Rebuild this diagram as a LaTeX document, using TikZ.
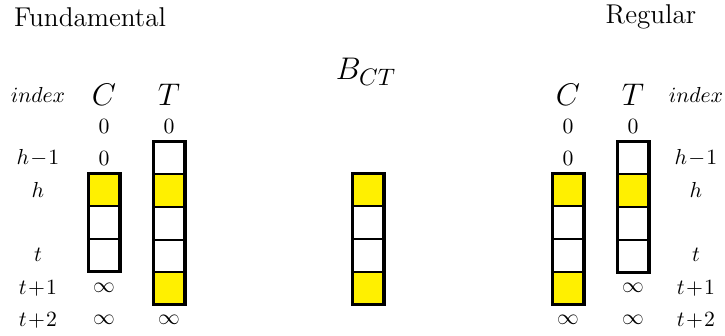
\documentclass[tikz,border=0pt]{standalone}
\usepackage{tikz}
\usetikzlibrary{positioning}
\usepackage{amsmath}
\usepackage{xcolor}

\definecolor{hl}{RGB}{255,240,0}

\begin{document}
\begin{tikzpicture}[
  x=0.46pt, y=-0.46pt,
  font=\normalsize,
  cell/.style={
    draw,
    line width=0.9pt,
    outer sep=0pt,
    inner sep=0pt,
    minimum width=14.7pt,
    minimum height=15pt
  },
  hlcell/.style={cell, fill=hl},
  frame/.style={draw, line width=1.4pt},
  lbl/.style={inner sep=0pt},
  head/.style={inner sep=0pt, font=\fontsize{15}{18}\selectfont}
]
\useasboundingbox (0,0) rectangle (725,335);

% titles
\node[lbl, font=\fontsize{12.5}{15}\selectfont] (fund) at (90,17) {Fundamental};
\node[lbl, font=\fontsize{12.5}{15}\selectfont] (reg) at (651,17) {Regular};
\node[head] (bct) at (366,72) {$B_{CT}$};

% left: Fundamental
\node[lbl] (lidx) at (38,95) {$index$};
\node[head] (lC) at (104,95) {$C$};
\node[head] (lT) at (169,95) {$T$};
\node[lbl] (lr1) at (38,158) {$h\!-\!1$};
\node[lbl] (lr2) at (38,190) {$h$};
\node[lbl] (lr4) at (38,255) {$t$};
\node[lbl] (lr5) at (38,288) {$t\!+\!1$};
\node[lbl] (lr6) at (38,320) {$t\!+\!2$};

\node[lbl] (lc0) at (104,126) {$0$};
\node[lbl] (lc1) at (104,158) {$0$};
\node[hlcell] (lc2) at (104,190) {};
\node[cell, below=0pt of lc2] (lc3) {};
\node[cell, below=0pt of lc3] (lc4) {};
\node[lbl] (lc5) at (104,288) {$\infty$};
\node[lbl] (lc6) at (104,320) {$\infty$};
\draw[frame] (lc2.north west) rectangle (lc4.south east);

\node[lbl] (lt0) at (169,126) {$0$};
\node[cell] (lt1) at (169,158) {};
\node[hlcell, below=0pt of lt1] (lt2) {};
\node[cell, below=0pt of lt2] (lt3) {};
\node[cell, below=0pt of lt3] (lt4) {};
\node[hlcell, below=0pt of lt4] (lt5) {};
\node[lbl] (lt6) at (169,320) {$\infty$};
\draw[frame] (lt1.north west) rectangle (lt5.south east);

% middle: B_CT
\node[hlcell] (b2) at (368,190) {};
\node[cell, below=0pt of b2] (b3) {};
\node[cell, below=0pt of b3] (b4) {};
\node[hlcell, below=0pt of b4] (b5) {};
\draw[frame] (b2.north west) rectangle (b5.south east);

% right: Regular
\node[head] (rC) at (568,95) {$C$};
\node[head] (rT) at (633,95) {$T$};
\node[lbl] (ridx) at (696,95) {$index$};
\node[lbl] (rr1) at (696,158) {$h\!-\!1$};
\node[lbl] (rr2) at (696,190) {$h$};
\node[lbl] (rr4) at (696,255) {$t$};
\node[lbl] (rr5) at (696,288) {$t\!+\!1$};
\node[lbl] (rr6) at (696,320) {$t\!+\!2$};

\node[lbl] (rc0) at (568,126) {$0$};
\node[lbl] (rc1) at (568,158) {$0$};
\node[hlcell] (rc2) at (568,190) {};
\node[cell, below=0pt of rc2] (rc3) {};
\node[cell, below=0pt of rc3] (rc4) {};
\node[hlcell, below=0pt of rc4] (rc5) {};
\node[lbl] (rc6) at (568,320) {$\infty$};
\draw[frame] (rc2.north west) rectangle (rc5.south east);

\node[lbl] (rt0) at (633,126) {$0$};
\node[cell] (rt1) at (633,158) {};
\node[hlcell, below=0pt of rt1] (rt2) {};
\node[cell, below=0pt of rt2] (rt3) {};
\node[cell, below=0pt of rt3] (rt4) {};
\node[lbl] (rt5) at (633,288) {$\infty$};
\node[lbl] (rt6) at (633,320) {$\infty$};
\draw[frame] (rt1.north west) rectangle (rt4.south east);
\end{tikzpicture}
\end{document}
